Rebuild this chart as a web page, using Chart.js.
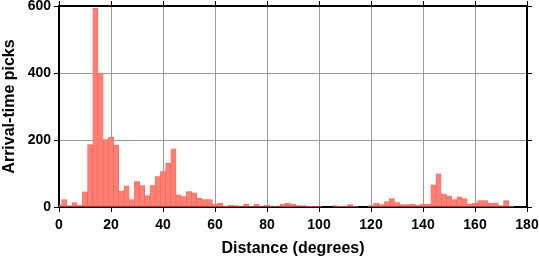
<!DOCTYPE html>
<html>
<head>
<meta charset="utf-8">
<script src="https://cdn.jsdelivr.net/npm/chart.js@4"></script>
<style>
  html, body { margin: 0; padding: 0; background: #fff; }
  #wrap { width: 539px; height: 258px; }
</style>
</head>
<body>
<div id="wrap"><canvas id="hist" width="539" height="258"></canvas></div>
<script>
// bin centres (degrees), 2-degree bins
const binCenters = [0, 2, 4, 6, 8, 10, 12, 14, 16, 18, 20, 22, 24, 26, 28, 30, 32, 34, 36, 38,
    40, 42, 44, 46, 48, 50, 52, 54, 56, 58, 60, 62, 64, 66, 68, 70, 72, 74, 76, 78,
    80, 82, 84, 86, 88, 90, 92, 94, 96, 98, 100, 102, 104, 106, 108, 110, 112, 114, 116, 118,
    120, 122, 124, 126, 128, 130, 132, 134, 136, 138, 140, 142, 144, 146, 148, 150, 152, 154, 156, 158,
    160, 162, 164, 166, 168, 170, 172, 174, 176, 178, 180];

// picks per bin
const pickCounts = [5, 22, 4, 13, 6, 45, 186, 593, 400, 201, 208, 185, 48, 63, 22, 76, 64, 34, 64, 91,
    106, 130, 174, 36, 31, 46, 42, 27, 22, 22, 9, 12, 2, 6, 4, 3, 9, 3, 9, 3,
    6, 3, 3, 9, 12, 9, 4, 4, 1, 1, 1, 0, 0, 4, 1, 1, 7, 1, 0, 0,
    4, 12, 7, 16, 25, 13, 7, 7, 9, 6, 9, 9, 66, 99, 39, 33, 22, 30, 25, 9,
    12, 19, 19, 12, 12, 4, 19, 2, 0, 0, 0];

const xTicks = [0, 20, 40, 60, 80, 100, 120, 140, 160, 180];
const yTicks = [0, 200, 400, 600];

const font = { family: '"Liberation Sans", Arial, sans-serif', weight: 'bold' };

function noPad(s) {
    s.paddingTop = 0;
    s.paddingBottom = 0;
    s.paddingLeft = 0;
    s.paddingRight = 0;
}

new Chart(document.getElementById('hist').getContext('2d'), {
    type: 'bar',
    data: {
        datasets: [{
            data: binCenters.map((c, i) => ({ x: c, y: pickCounts[i] })),
            backgroundColor: '#ff7f74',
            borderColor: '#ff5a55',
            borderWidth: 0.6,
            barPercentage: 1,
            categoryPercentage: 1,
            borderSkipped: false
        }]
    },
    options: {
        responsive: false,
        animation: false,
        layout: { padding: { top: 1, right: 7, left: 0, bottom: 0 } },
        plugins: { legend: { display: false }, tooltip: { enabled: false } },
        scales: {
            x: {
                type: 'linear',
                position: 'bottom',
                offset: false,
                min: 0,
                max: 180,
                afterBuildTicks: s => { s.ticks = xTicks.map(v => ({ value: v })); },
                afterFit: s => { s.height = 51; noPad(s); },
                grid: { offset: false, color: '#999', lineWidth: 1, tickColor: '#000', tickLength: 5, tickWidth: 1 },
                border: { color: '#000', width: 2 },
                ticks: { color: '#000', font: { ...font, size: 14 }, padding: 5, maxRotation: 0 },
                title: {
                    display: true,
                    text: 'Distance (degrees)',
                    color: '#000',
                    font: { ...font, size: 16 },
                    padding: { top: 0, bottom: 0 }
                }
            },
            x2: {
                type: 'linear',
                position: 'top',
                offset: false,
                min: 0,
                max: 180,
                afterBuildTicks: s => { s.ticks = xTicks.map(v => ({ value: v })); },
                afterFit: s => { s.height = 5; noPad(s); },
                grid: { offset: false, drawOnChartArea: false, tickColor: '#000', tickLength: 5, tickWidth: 1 },
                border: { color: '#000', width: 2 },
                ticks: { display: false }
            },
            y: {
                min: 0,
                max: 600,
                afterBuildTicks: s => { s.ticks = yTicks.map(v => ({ value: v })); },
                afterFit: s => { s.width = 59; noPad(s); },
                grid: { color: '#999', lineWidth: 1, tickColor: '#000', tickLength: 5, tickWidth: 1 },
                border: { color: '#000', width: 2 },
                ticks: { color: '#000', font: { ...font, size: 14 }, padding: 3 },
                title: {
                    display: true,
                    text: 'Arrival-time picks',
                    color: '#000',
                    font: { ...font, size: 16 },
                    padding: { top: 0, bottom: 0 }
                }
            },
            y2: {
                position: 'right',
                min: 0,
                max: 600,
                afterBuildTicks: s => { s.ticks = yTicks.map(v => ({ value: v })); },
                afterFit: s => { s.width = 5; noPad(s); },
                grid: { drawOnChartArea: false, tickColor: '#000', tickLength: 5, tickWidth: 1 },
                border: { color: '#000', width: 2 },
                ticks: { display: false }
            }
        }
    }
});
</script>
</body>
</html>
